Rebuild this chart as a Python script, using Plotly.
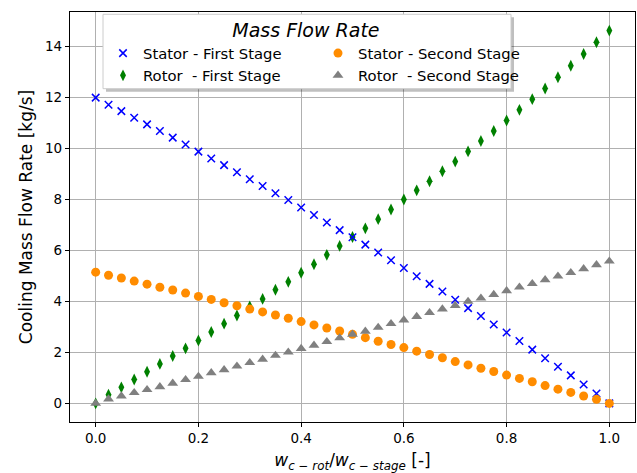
import plotly.graph_objects as go

x_vals = [i * 0.025 for i in range(41)]

stator_first = [12.0, 11.72, 11.47, 11.21, 10.95, 10.69, 10.43, 10.16, 9.88, 9.61,
                9.35, 9.07, 8.80, 8.53, 8.25, 7.98, 7.69, 7.39, 7.10, 6.80,
                6.52, 6.23, 5.92, 5.62, 5.31, 4.99, 4.69, 4.39, 4.07, 3.74,
                3.43, 3.10, 2.78, 2.45, 2.11, 1.77, 1.44, 1.10, 0.74, 0.39, 0.0]

rotor_first = [0.0, 0.34, 0.63, 0.94, 1.24, 1.55, 1.86, 2.16, 2.47, 2.80,
               3.13, 3.45, 3.80, 4.10, 4.46, 4.77, 5.13, 5.46, 5.83, 6.18,
               6.53, 6.87, 7.23, 7.61, 8.00, 8.36, 8.72, 9.11, 9.49, 9.89,
               10.30, 10.69, 11.10, 11.52, 11.94, 12.36, 12.80, 13.25, 13.71, 14.17, 14.63]

stator_second = [5.15, 5.03, 4.92, 4.80, 4.68, 4.56, 4.45, 4.33, 4.20, 4.08,
                 3.95, 3.83, 3.70, 3.59, 3.47, 3.34, 3.21, 3.08, 2.96, 2.84,
                 2.71, 2.58, 2.44, 2.31, 2.19, 2.05, 1.92, 1.79, 1.64, 1.51,
                 1.38, 1.25, 1.11, 0.98, 0.85, 0.70, 0.56, 0.43, 0.29, 0.16, 0.0]

rotor_second = [0.0, 0.17, 0.29, 0.42, 0.54, 0.65, 0.79, 0.93, 1.06, 1.20,
                1.32, 1.46, 1.60, 1.73, 1.88, 2.01, 2.15, 2.28, 2.42, 2.57,
                2.71, 2.83, 2.98, 3.13, 3.27, 3.41, 3.56, 3.70, 3.84, 4.00,
                4.13, 4.27, 4.42, 4.56, 4.70, 4.85, 4.99, 5.13, 5.28, 5.44, 5.58]

x_ticks = [0.0, 0.2, 0.4, 0.6, 0.8, 1.0]
y_ticks = [0, 2, 4, 6, 8, 10, 12, 14]

FONT = "DejaVu Sans"

fig = go.Figure()
fig.add_trace(go.Scatter(x=x_vals, y=rotor_first, mode="markers", name="Rotor  - First Stage",
                         legendrank=3,
                         marker=dict(symbol="diamond-tall", size=8.5, color="#008000")))
fig.add_trace(go.Scatter(x=x_vals, y=stator_first, mode="markers", name="Stator - First Stage",
                         legendrank=1,
                         marker=dict(symbol="x-thin", size=7.5, color="#0000ff",
                                     line=dict(color="#0000ff", width=1.5))))
fig.add_trace(go.Scatter(x=x_vals, y=stator_second, mode="markers", name="Stator - Second Stage",
                         legendrank=2,
                         marker=dict(symbol="circle", size=9, color="#ff8c00")))
fig.add_trace(go.Scatter(x=x_vals, y=rotor_second, mode="markers", name="Rotor  - Second Stage",
                         legendrank=4,
                         marker=dict(symbol="triangle-up", size=9.5, color="#808080")))

axis_common = dict(
    showline=True, linecolor="black", linewidth=1.2, mirror=True,
    ticks="outside", ticklen=4, tickcolor="black", tickwidth=1,
    showgrid=True, gridcolor="#b0b0b0", gridwidth=1, zeroline=False,
    tickfont=dict(family=FONT, size=13.5, color="black"),
)

fig.update_xaxes(range=[-0.05, 1.05], tickvals=x_ticks, tickformat=".1f",
                 title=dict(text="<i>w</i><sub><i>c − rot</i></sub>/<i>w</i><sub><i>c − stage</i></sub> [-]",
                            font=dict(family=FONT, size=17, color="black"), standoff=9),
                 **axis_common)
fig.update_yaxes(range=[-0.73, 15.36], tickvals=y_ticks,
                 title=dict(text="Cooling Mass Flow Rate [kg/s]",
                            font=dict(family=FONT, size=17, color="black"), standoff=8),
                 **axis_common)

# legend frame with shadow (paper coords)
L, R, T, B = 70, 635, 11.7, 422.3
def px(xp):
    return (xp - L) / (R - L)
def py(yp):
    return (B - yp) / (B - T)

fig.add_shape(type="rect", xref="paper", yref="paper", layer="above",
              x0=px(106), x1=px(514), y0=py(91.5), y1=py(17),
              fillcolor="rgba(0,0,0,0.25)", line=dict(width=0))
fig.add_shape(type="rect", xref="paper", yref="paper", layer="above",
              x0=px(103), x1=px(511), y0=py(88.5), y1=py(14),
              fillcolor="rgba(255,255,255,1)", line=dict(color="#cccccc", width=1))

fig.update_layout(
    width=637, height=473,
    margin=dict(l=70, r=2, t=12, b=51),
    plot_bgcolor="white", paper_bgcolor="white",
    font=dict(family=FONT, color="black"),
    showlegend=True,
    legend=dict(
        orientation="h", x=px(103), y=py(12), xanchor="left", yanchor="top",
        bgcolor="rgba(0,0,0,0)", borderwidth=0,
        entrywidth=170, entrywidthmode="pixels",
        font=dict(family=FONT, size=14.8, color="black"),
        title=dict(text="<i>Mass Flow Rate</i>" + "&nbsp;" * 4, side="top center",
                   font=dict(family=FONT, size=19, color="black")),
        tracegroupgap=0, itemsizing="trace",
    ),
)

fig.write_html("out.html")
